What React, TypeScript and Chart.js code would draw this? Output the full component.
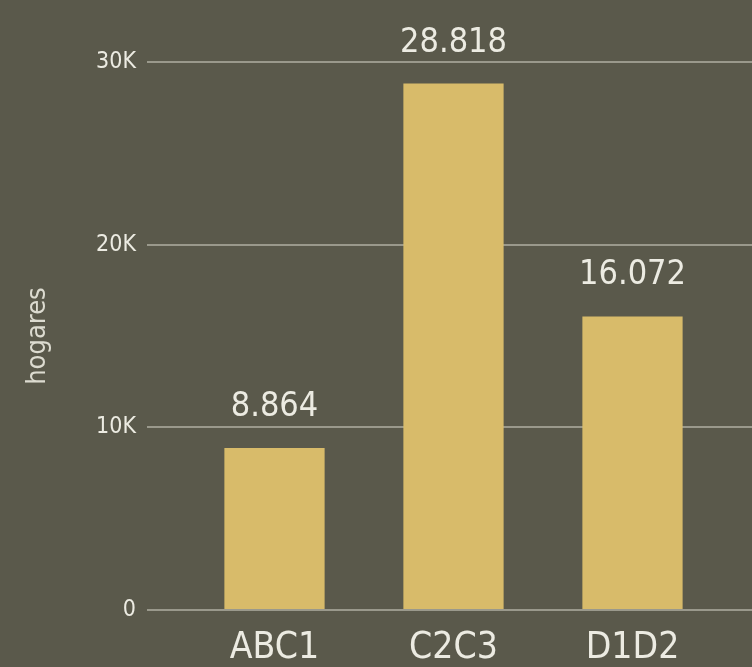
import React, { useEffect, useRef } from "react";
import { Chart, registerables } from "chart.js";

Chart.register(...registerables);

const categories = ["ABC1", "C2C3", "D1D2"];
const hogares = [8864, 28818, 16072];
const yTicks = [0, 10000, 20000, 30000];

const BG = "#5a594b";
const BAR = "#d8bb6a";
const GRID = "#9a998c";
const TEXT = "#ecebe2";
const FONT = "'DejaVu Sans Condensed', 'DejaVu Sans', sans-serif";

function fmtThousands(v: number): string {
  return String(v).replace(/\B(?=(\d{3})+(?!\d))/g, ".");
}

const bgPlugin = {
  id: "bg",
  beforeDraw(chart: any) {
    const ctx = chart.ctx;
    ctx.save();
    ctx.fillStyle = BG;
    ctx.fillRect(0, 0, chart.width, chart.height);
    ctx.restore();
  },
};

const labelPlugin = {
  id: "valueLabels",
  afterDatasetsDraw(chart: any) {
    const ctx = chart.ctx;
    const meta = chart.getDatasetMeta(0);
    ctx.save();
    ctx.fillStyle = TEXT;
    ctx.font = `34px ${FONT}`;
    ctx.textAlign = "center";
    ctx.textBaseline = "alphabetic";
    meta.data.forEach((el: any, i: number) => {
      ctx.fillText(fmtThousands(hogares[i]), el.x, el.y - 32);
    });
    ctx.restore();
  },
};

export default function App() {
  const ref = useRef<HTMLCanvasElement | null>(null);

  useEffect(() => {
    if (!ref.current) return;
    const chart = new Chart(ref.current, {
      type: "bar",
      data: {
        labels: categories,
        datasets: [
          {
            data: hogares,
            backgroundColor: BAR,
            borderWidth: 0,
            categoryPercentage: 1,
            barPercentage: 0.56,
          },
        ],
      },
      options: {
        responsive: true,
        maintainAspectRatio: false,
        animation: false,
        layout: { padding: { top: 62, left: 0, right: 0, bottom: 0 } },
        plugins: {
          legend: { display: false },
          tooltip: { enabled: false },
          title: { display: false },
        },
        scales: {
          x: {
            grid: { display: false, drawTicks: false },
            border: { display: false },
            ticks: {
              color: TEXT,
              font: { family: FONT, size: 37 },
              padding: 16,
            },
            afterFit(scale: any) {
              scale.height = 57;
            },
          },
          y: {
            position: "left",
            min: 0,
            max: 30000,
            afterBuildTicks(scale: any) {
              scale.ticks = yTicks.map((v) => ({ value: v }));
            },
            ticks: {
              color: TEXT,
              font: { family: FONT, size: 23 },
              padding: 11,
              callback: (v: any) => (Number(v) === 0 ? "0" : Number(v) / 1000 + "K"),
            },
            grid: { color: GRID, lineWidth: 2, tickLength: 38, drawTicks: true },
            border: { display: false },
            title: {
              display: true,
              text: "hogares",
              color: "#dcdbd0",
              font: { family: FONT, size: 27 },
              padding: { top: 22, bottom: 0 },
            },
            afterFit(scale: any) {
              scale.width = 185;
            },
          },
          y2: {
            position: "right",
            min: 0,
            max: 30000,
            afterBuildTicks(scale: any) {
              scale.ticks = yTicks.map((v) => ({ value: v }));
            },
            ticks: { display: false },
            grid: {
              color: GRID,
              lineWidth: 2,
              tickLength: 30,
              drawTicks: true,
              drawOnChartArea: false,
            },
            border: { display: false },
            afterFit(scale: any) {
              scale.width = 30;
            },
          },
        },
      } as any,
      plugins: [bgPlugin, labelPlugin],
    });
    return () => chart.destroy();
  }, []);

  return (
    <div style={{ position: "absolute", left: 0, top: 0, width: 752, height: 667 }}>
      <canvas ref={ref} />
    </div>
  );
}
